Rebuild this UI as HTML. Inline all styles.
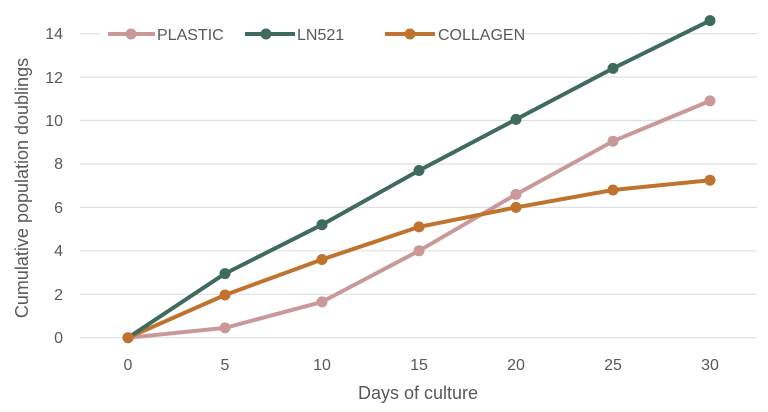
<!DOCTYPE html>
<html><head><style>body{margin:0;background:#fff}svg{display:block}text{font-family:"Liberation Sans",sans-serif;fill:#595959}</style></head><body>
<svg width="768" height="412" viewBox="0 0 768 412">
<g stroke="#e0e0e0" stroke-width="1.2">
<line x1="80" x2="757" y1="337.7" y2="337.7"/><line x1="80" x2="757" y1="294.3" y2="294.3"/><line x1="80" x2="757" y1="250.8" y2="250.8"/><line x1="80" x2="757" y1="207.4" y2="207.4"/><line x1="80" x2="757" y1="164" y2="164"/><line x1="80" x2="757" y1="120.5" y2="120.5"/><line x1="80" x2="757" y1="77.1" y2="77.1"/><line x1="80" x2="757" y1="33.6" y2="33.6"/>
</g>
<g font-size="16" text-anchor="end">
<text x="63" y="343">0</text><text x="63" y="300">2</text><text x="63" y="256">4</text><text x="63" y="213">6</text><text x="63" y="169">8</text><text x="63" y="126">10</text><text x="63" y="83">12</text><text x="63" y="39">14</text>
</g>
<g font-size="16" text-anchor="middle">
<text x="128" y="370">0</text><text x="225" y="370">5</text><text x="322" y="370">10</text><text x="419" y="370">15</text><text x="516" y="370">20</text><text x="613" y="370">25</text><text x="710" y="370">30</text>
<text x="418" y="399" font-size="18">Days of culture</text>
<text transform="translate(28,188) rotate(-90)" font-size="18">Cumulative population doublings</text>
</g>
<rect x="100" y="24" width="420" height="20" fill="#fff"/>
<g stroke-width="4" fill="none" stroke-linejoin="round">
<polyline stroke="#c9999a" points="128,337.7 225,327.9 322,301.9 419,250.8 516,194.4 613,141.2 710,100.9"/>
<polyline stroke="#c0732f" points="128,337.7 225,295 322,259.5 419,226.9 516,207.4 613,190 710,180.2"/>
<polyline stroke="#3e6b5c" points="128,337.7 225,273.6 322,224.7 419,170.5 516,119.4 613,68.4 710,20.6"/>
</g>
<g fill="#c9999a"><circle cx="128" cy="337.7" r="5.5"/><circle cx="225" cy="327.9" r="5.5"/><circle cx="322" cy="301.9" r="5.5"/><circle cx="419" cy="250.8" r="5.5"/><circle cx="516" cy="194.4" r="5.5"/><circle cx="613" cy="141.2" r="5.5"/><circle cx="710" cy="100.9" r="5.5"/></g>
<g fill="#3e6b5c"><circle cx="225" cy="273.6" r="5.5"/><circle cx="322" cy="224.7" r="5.5"/><circle cx="419" cy="170.5" r="5.5"/><circle cx="516" cy="119.4" r="5.5"/><circle cx="613" cy="68.4" r="5.5"/><circle cx="710" cy="20.6" r="5.5"/></g>
<g fill="#c0732f"><circle cx="225" cy="295" r="5.5"/><circle cx="322" cy="259.5" r="5.5"/><circle cx="419" cy="226.9" r="5.5"/><circle cx="516" cy="207.4" r="5.5"/><circle cx="613" cy="190" r="5.5"/><circle cx="710" cy="180.2" r="5.5"/><circle cx="128" cy="337.7" r="5.5"/></g>
<g stroke-width="4">
<line x1="108" x2="155" y1="34" y2="34" stroke="#c9999a"/><circle cx="131" cy="34" r="5.5" fill="#c9999a"/>
<line x1="245" x2="295" y1="34" y2="34" stroke="#3e6b5c"/><circle cx="266" cy="34" r="5.5" fill="#3e6b5c"/>
<line x1="385" x2="435" y1="34" y2="34" stroke="#c0732f"/><circle cx="410" cy="34" r="5.5" fill="#c0732f"/>
</g>
<g font-size="16"><text x="157" y="40">PLASTIC</text><text x="297" y="40">LN521</text><text x="438" y="40">COLLAGEN</text></g>
</svg>
</body></html>
